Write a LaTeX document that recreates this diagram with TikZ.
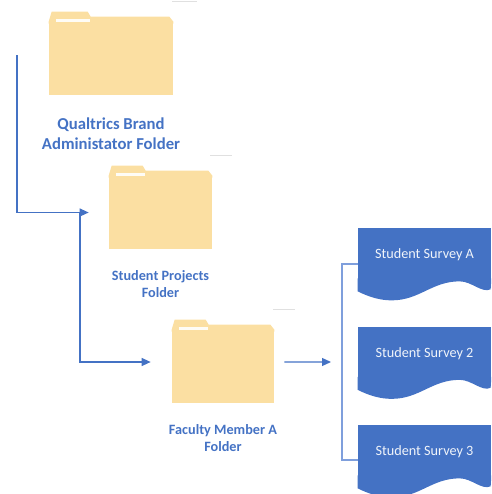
\documentclass[tikz,border=0pt]{standalone}
\usepackage{xcolor}
\usepackage{fontspec}
\setmainfont{Carlito}
\usetikzlibrary{arrows.meta, positioning}
\definecolor{folderyellow}{HTML}{FBDFA2}
\definecolor{surveyblue}{HTML}{4472C4}
\definecolor{bracketblue}{HTML}{7F9FDC}

\begin{document}
\begin{tikzpicture}[
    x=0.02cm, y=0.02cm,
    folder/.style={fill=folderyellow, inner sep=0pt, minimum height=1.46cm},
    survey/.style={fill=surveyblue, text=white!92!surveyblue, inner sep=0pt, text depth=0pt, minimum width=2.66cm, minimum height=1.04cm, font=\fontsize{8.1pt}{9.7pt}\selectfont},
    biglabel/.style={align=center, text=surveyblue, font=\fontsize{9.5pt}{11.4pt}\selectfont\bfseries},
    smalllabel/.style={align=center, text=surveyblue, font=\fontsize{8.1pt}{9.7pt}\selectfont\bfseries},
    flow/.style={-{Triangle[length=0.18cm, width=0.16cm]}, draw=surveyblue, line width=0.7pt},
    bracketline/.style={draw=bracketblue, line width=0.7pt},
    smudge/.style={draw=black!12, line width=0.4pt}
]
    \clip (0,0) rectangle (491,-494);

    \node[folder, minimum width=2.48cm] at (111,-58.5) (admin) {};
    \node[folder, minimum width=2.06cm] at (160.5,-212.5) (projects) {};
    \node[folder, minimum width=2.04cm] at (223,-366.5) (faculty) {};
    \foreach \f/\t in {admin/42, projects/37, faculty/37} {
        \fill[folderyellow] ([yshift=-0.04cm]\f.north west) -- ++(0,2) -- ++(3,10) -- ++(\t-6,0) -- ++(3,-5) -- ([shift={(-4,5)}]\f.north east) -- (\f.north east) -- ([yshift=-0.04cm]\f.north east) -- cycle;
        \fill[white!90!folderyellow] ([shift={(7,0)}]\f.north west) rectangle ++(\t-8,3);
    }

    \node[biglabel, below=0.32cm of admin] (adminlabel) {Qualtrics Brand\\Administator Folder};
    \node[smalllabel, below=0.3cm of projects] (projectslabel) {Student Projects\\Folder};
    \node[smalllabel, below=0.3cm of faculty] (facultylabel) {Faculty Member A\\Folder};

    \node[survey] at (424.5,-254) (surveyA) {Student Survey A};
    \node[survey] at (424.5,-352.5) (survey2) {Student Survey 2};
    \node[survey] at (424.5,-451) (survey3) {Student Survey 3};
    \foreach \s in {surveyA, survey2, survey3} {
        \fill[surveyblue] ([yshift=0.04cm]\s.south west) -- ++(0,-13) .. controls +(12,-6) and +(-11,0) .. ++(34,-9) .. controls +(28,0) and +(-28,0) .. ++(68,19) .. controls +(12,0) and +(-9,-4) .. ++(31,-8) -- ([yshift=0.04cm]\s.south east) -- cycle;
    }

    \coordinate (adminstart) at (17,-55);
    \coordinate (branch) at (80,-212.5);
    \coordinate (bracket) at (342,-362);

    \draw[flow, shorten >=0.4cm] (adminstart) |- (projects.west);
    \draw[flow, shorten >=0.42cm] (branch) |- ([yshift=0.09cm]faculty.west);
    \draw[flow, shorten <=0.2cm, shorten >=0.22cm] ([yshift=0.09cm]faculty.east) -- (bracket);
    \draw[bracketline] ([yshift=-0.2cm]surveyA.west) -| (bracket) |- ([yshift=-0.18cm]survey3.west);

    \draw[smudge] (172,-1) -- ++(25,0);
    \draw[smudge] (210,-155) -- ++(22,0);
    \draw[smudge] (273,-309) -- ++(22,0);
\end{tikzpicture}
\end{document}
